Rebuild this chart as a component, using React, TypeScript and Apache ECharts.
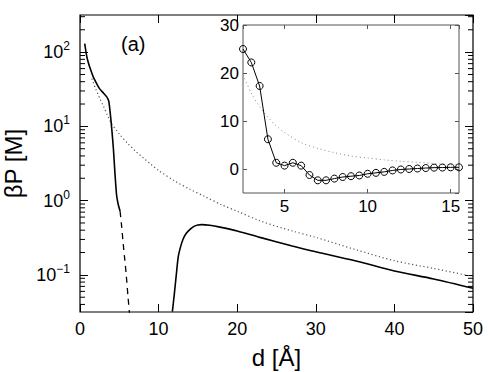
import React, { useEffect, useRef } from 'react';
import * as echarts from 'echarts';

// Main panel (log scale)
const solidD1 = [0.6, 0.8, 1.0, 1.3, 1.7, 2.1, 2.5, 3.0, 3.4, 3.65, 3.85, 4.05, 4.25, 4.45, 4.65, 4.85, 5.1];
const solidP1 = [130, 95, 76, 60, 46, 38, 32, 28, 25, 22, 15, 9, 5, 2.3, 1.2, 0.9, 0.72];
const dashD = [5.1, 5.3, 5.5, 5.7, 5.9, 6.1, 6.3];
const dashP = [0.72, 0.45, 0.26, 0.16, 0.095, 0.052, 0.03];
const solidD2 = [11.75, 12.0, 12.25, 12.5, 12.8, 13.1, 13.5, 14, 14.5, 15, 15.5, 16.5, 17.8, 20, 22.9, 27, 30, 35, 40, 45, 50];
const solidP2 = [0.032, 0.055, 0.1, 0.175, 0.24, 0.3, 0.36, 0.41, 0.45, 0.47, 0.475, 0.465, 0.44, 0.39, 0.32, 0.245, 0.205, 0.155, 0.113, 0.088, 0.066];
const dotD = [1.5, 2, 2.5, 3, 3.5, 4, 5, 6, 7, 8, 9, 10, 12, 14, 16, 18, 20, 23, 27, 30, 35, 40, 45, 50];
const dotP = [44, 32, 24, 18.5, 14, 11, 7.9, 6, 4.7, 3.8, 3.1, 2.55, 1.85, 1.42, 1.12, 0.88, 0.72, 0.53, 0.39, 0.32, 0.22, 0.155, 0.122, 0.095];
const minorTicks = [0.04, 0.05, 0.06, 0.07, 0.08, 0.09, 0.2, 0.3, 0.4, 0.5, 0.6, 0.7, 0.8, 0.9, 2, 3, 4, 5, 6, 7, 8, 9, 20, 30, 40, 50, 60, 70, 80, 90, 200, 300];

// Inset (linear scale)
const insetD = [2.5, 3, 3.5, 4, 4.5, 5, 5.5, 6, 6.5, 7, 7.5, 8, 8.5, 9, 9.5, 10, 10.5, 11, 11.5, 12, 12.5, 13, 13.5, 14, 14.5, 15, 15.5];
const insetP = [25.0, 22.2, 17.3, 6.2, 1.3, 0.7, 1.3, 0.7, -1.25, -2.36, -2.36, -2.0, -1.67, -1.5, -1.35, -1.0, -0.8, -0.6, -0.3, -0.1, 0.0, 0.1, 0.2, 0.28, 0.3, 0.35, 0.35];
const insetDotD = [2.5, 3, 3.5, 4, 4.5, 5, 6, 7, 8, 9, 10, 11, 12, 13, 14, 15, 15.5];
const insetDotP = [19.6, 15.8, 13, 10.8, 9.0, 7.6, 5.5, 4.3, 3.4, 2.7, 2.3, 1.9, 1.6, 1.4, 1.15, 0.9, 0.85];

const FONT = 'Liberation Sans, Arial, sans-serif';

export default function App() {
  const ref = useRef<HTMLDivElement>(null);
  useEffect(() => {
    if (!ref.current) return;
    const chart = echarts.init(ref.current, null, { renderer: 'svg' });
    const zip = (a: number[], b: number[]) => a.map((v, i) => [v, b[i]]);
    const logLabel = (v: number) => {
      const e = Math.log10(v);
      if (Math.abs(e - Math.round(e)) > 1e-6) return '';
      const n = Math.round(e);
      return `{b|10}{s|${n < 0 ? '\u2212' + -n : n}}`;
    };
    const noLine = { show: false, onZero: false };
    const option: any = {
      animation: false,
      backgroundColor: '#fff',
      textStyle: { fontFamily: FONT },
      grid: [
        { left: 80, right: 15, top: 15, bottom: 60, show: true, borderColor: '#000', borderWidth: 1.2, containLabel: false, outerBoundsMode: 'none' },
        { left: 243, top: 25, width: 216, height: 168, show: true, borderColor: '#555', borderWidth: 1, backgroundColor: '#fff', z: 5, containLabel: false, outerBoundsMode: 'none' },
      ],
      xAxis: [
        {
          type: 'value', gridIndex: 0, min: 0, max: 50, interval: 10,
          axisLine: noLine, splitLine: { show: false },
          axisTick: { inside: true, length: 8, lineStyle: { color: '#000', width: 1 } },
          axisLabel: { fontSize: 18, color: '#000', margin: 8, fontFamily: FONT },
          name: 'd [Å]', nameLocation: 'middle', nameGap: 33,
          nameTextStyle: { fontSize: 24, color: '#000', fontFamily: FONT },
        },
        {
          type: 'value', gridIndex: 0, min: 0, max: 50, interval: 10, position: 'top',
          axisLine: noLine, splitLine: { show: false },
          axisTick: { inside: true, length: 8, lineStyle: { color: '#000', width: 1 } },
          axisLabel: { show: false },
        },
        {
          type: 'value', gridIndex: 1, min: 2.5, max: 15.5, splitNumber: 3,
          axisLine: noLine, splitLine: { show: false },
          axisTick: { inside: true, length: 4, lineStyle: { color: '#555', width: 1 } },
          axisLabel: {
            fontSize: 17, color: '#000', margin: 5, fontFamily: FONT, showMinLabel: false, showMaxLabel: false,
            formatter: (v: number) => (v % 5 === 0 ? String(v) : ''),
          },
          z: 6,
        },
        {
          type: 'value', gridIndex: 1, min: 2.5, max: 15.5, splitNumber: 3, position: 'top',
          axisLine: noLine, splitLine: { show: false },
          axisTick: { inside: true, length: 4, lineStyle: { color: '#555', width: 1 } },
          axisLabel: { show: false }, z: 6,
        },
      ],
      yAxis: [
        {
          type: 'log', logBase: 10, gridIndex: 0, min: 0.0316228, max: 316.228,
          axisLine: noLine, splitLine: { show: false },
          axisTick: { inside: true, length: 8, lineStyle: { color: '#000', width: 1 } },
          axisLabel: {
            color: '#000', margin: 10, showMinLabel: false, showMaxLabel: false, formatter: logLabel,
            rich: {
              b: { fontSize: 18, fontFamily: FONT, color: '#000', lineHeight: 24 },
              s: { fontSize: 12, fontFamily: FONT, color: '#000', verticalAlign: 'top', lineHeight: 24, padding: [0, 0, 10, 0] },
            },
          },
          name: 'βP [M]', nameLocation: 'middle', nameGap: 44, nameRotate: 90,
          nameTextStyle: { fontSize: 24, color: '#000', fontFamily: FONT },
        },
        {
          type: 'log', logBase: 10, gridIndex: 0, min: 0.0316228, max: 316.228, position: 'right',
          axisLine: noLine, splitLine: { show: false },
          axisTick: { inside: true, length: 8, lineStyle: { color: '#000', width: 1 } },
          axisLabel: { show: false },
        },
        {
          type: 'value', gridIndex: 1, min: -5, max: 30, splitNumber: 4,
          axisLine: noLine, splitLine: { show: false },
          axisTick: { inside: true, length: 4, lineStyle: { color: '#555', width: 1 } },
          axisLabel: {
            fontSize: 17, color: '#000', margin: 4, fontFamily: FONT, showMinLabel: false,
            formatter: (v: number) => (v % 10 === 0 ? String(v) : ''),
          },
          z: 6,
        },
        {
          type: 'value', gridIndex: 1, min: -5, max: 30, splitNumber: 4, position: 'right',
          axisLine: noLine, splitLine: { show: false },
          axisTick: { inside: true, length: 4, lineStyle: { color: '#555', width: 1 } },
          axisLabel: { show: false }, z: 6,
        },
      ],
      series: [
        {
          type: 'custom', xAxisIndex: 0, yAxisIndex: 0, silent: true,
          data: minorTicks.map((v) => [0, v]),
          renderItem: (params: any, api: any) => {
            const v = api.value(1);
            const l = api.coord([0, v]);
            const r = api.coord([50, v]);
            const st = { stroke: '#000', lineWidth: 1 };
            return {
              type: 'group',
              children: [
                { type: 'line', shape: { x1: l[0], y1: l[1], x2: l[0] + 5, y2: l[1] }, style: st },
                { type: 'line', shape: { x1: r[0], y1: r[1], x2: r[0] - 5, y2: r[1] }, style: st },
              ],
            };
          },
        },
        {
          type: 'line', xAxisIndex: 0, yAxisIndex: 0, data: zip(dotD, dotP), symbol: 'none', smooth: 0.3,
          lineStyle: { color: '#555', width: 1.2, type: [1.2, 2.6] },
        },
        {
          type: 'line', xAxisIndex: 0, yAxisIndex: 0, data: zip(solidD1, solidP1), symbol: 'none', smooth: 0.2,
          lineStyle: { color: '#000', width: 1.6 },
        },
        {
          type: 'line', xAxisIndex: 0, yAxisIndex: 0, data: zip(dashD, dashP), symbol: 'none', smooth: 0.2,
          lineStyle: { color: '#000', width: 1.3, type: [6, 5] },
        },
        {
          type: 'line', xAxisIndex: 0, yAxisIndex: 0, data: zip(solidD2, solidP2), symbol: 'none', smooth: 0.3,
          lineStyle: { color: '#000', width: 1.6 },
        },
        {
          type: 'line', xAxisIndex: 2, yAxisIndex: 2, data: zip(insetDotD, insetDotP), symbol: 'none', smooth: 0.3,
          lineStyle: { color: '#888', width: 1, type: [1, 3] }, z: 7,
        },
        {
          type: 'line', xAxisIndex: 2, yAxisIndex: 2, data: zip(insetD, insetP), symbol: 'circle', symbolSize: 7,
          itemStyle: { color: 'rgba(255,255,255,0)', borderColor: '#000', borderWidth: 1 },
          lineStyle: { color: '#000', width: 1 }, z: 8,
        },
      ],
      graphic: [
        { type: 'text', left: 121, top: 34, style: { text: '(a)', fontSize: 20, fontFamily: FONT, fill: '#000' } },
      ],
    };
    chart.setOption(option);
    return () => chart.dispose();
  }, []);
  return <div ref={ref} style={{ width: 488, height: 372, position: 'absolute', left: 0, top: 0 }} />;
}
